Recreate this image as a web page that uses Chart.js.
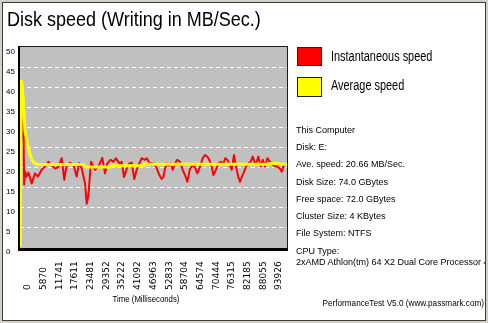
<!DOCTYPE html>
<html>
<head>
<meta charset="utf-8">
<script src="https://cdn.jsdelivr.net/npm/chart.js@4.4.1/dist/chart.umd.min.js"></script>
<style>
  html, body { margin: 0; padding: 0; }
  body { width: 488px; height: 323px; background: #d4d0c8; position: relative; overflow: hidden;
         font-family: "Liberation Sans", Arial, sans-serif; color: #000; }
  #panel { position: absolute; left: 2px; top: 2px; width: 482px; height: 317px;
           border: 1px solid #3c3c3c; background: #fff; }
  #chart { position: absolute; left: 0; top: 0; }
  #title { position: absolute; left: 7px; top: 9px; font-size: 20px; line-height: 20px; white-space: nowrap;
           transform: scaleX(0.9); transform-origin: 0 0; }
  .sw { position: absolute; left: 297px; width: 23px; border: 1px solid #202020; }
  .lg { position: absolute; left: 331px; font-size: 14px; line-height: 14px; white-space: nowrap;
        transform: scaleX(0.78); transform-origin: 0 0; }
  #infoBox { position: absolute; left: 296px; top: 0; width: 189px; height: 323px; overflow: hidden; }
  .info { position: absolute; left: 0; font-size: 9px; line-height: 9px; white-space: nowrap; }
  #xtitle { position: absolute; left: 46px; width: 200px; top: 294px; text-align: center;
            font-size: 9.5px; line-height: 10px; transform: scaleX(0.82); transform-origin: 50% 0; }
  #footer { position: absolute; right: 4px; top: 299px; font-size: 8.2px; line-height: 9px; white-space: nowrap; }
</style>
</head>
<body>
<div id="panel"></div>
<canvas id="chart" width="488" height="323"></canvas>
<div id="title">Disk speed (Writing in MB/Sec.)</div>
<div id="legend"></div>
<div id="infoBox"></div>
<div id="xtitle">Time (Milliseconds)</div>
<div id="footer">PerformanceTest V5.0 (www.passmark.com)</div>
<script>
// Time axis labels (ms)
const timeLabels = ['0','5870','11741','17611','23481','29352','35222','41092','46963',
                    '52833','58704','64574','70444','76315','82185','88055','93926'];

// Instantaneous write speed samples: time (ms) and MB/Sec
const instTime = [374,1234,1570,1869,2504,3177,4373,5607,6728,8111,9345,10579,11849,13083,14317,15587,16559,17456,18690,19924,
  21195,22054,23063,24297,24933,25531,26540,28035,29269,30764,31773,32633,33904,34876,35885,37118,38016,38875,39885,40857,
  41754,42726,43623,44595,45492,46725,47361,48333,49230,50089,51099,52070,52968,53566,54201,54837,55435,56332,57080,57939,
  58799,59808,60817,61677,62537,63546,64555,65415,66275,67284,68293,69153,70013,70760,71657,72255,73265,74125,75022,75994,
  76742,77490,78237,79134,79994,80742,81602,82238,82873,83733,84481,85341,86238,86986,87845,88481,89079,89976,90724,91584,
  92444,93453,94088,95322,96182,97191,97826,98424,99246];
const instSpeed = [26.0,32.2,15.6,18.9,17.6,18.6,15.9,18.4,17.6,19.3,
  20.1,21.3,20.4,19.6,20.0,22.2,16.8,20.6,21.0,20.6,
  17.6,21.0,19.6,15.9,10.8,12.8,21.3,19.3,20.1,22.3,
  18.4,20.9,21.8,21.3,22.2,20.9,21.3,17.5,19.6,20.9,
  21.1,17.0,19.3,20.9,22.2,21.8,22.2,21.1,20.9,20.9,
  19.7,18.0,17.0,17.5,19.6,20.9,20.3,20.9,19.3,20.9,
  21.8,21.3,19.3,18.0,16.3,19.6,20.4,19.9,18.4,20.1,
  22.2,23.0,22.6,21.8,20.1,18.0,19.3,20.9,21.3,20.9,
  22.2,21.8,20.9,19.3,23.0,20.1,17.5,16.3,17.5,18.8,
  20.1,20.9,21.3,22.6,20.9,21.3,22.6,20.1,21.8,20.1,
  22.2,21.3,20.9,20.1,20.1,19.6,18.8,20.1,20.9];

// Running average speed: time (ms) and MB/Sec
const avgTime  = [0,112,561,1234,1869,2504,3103,3738,4598,5607,6841,23923,24671,33642,33829,45977,46164,92702,93453,96440,97191,99796];
const avgSpeed = [0,13.4,41.5,36.9,28.9,27.0,24.9,23.1,21.6,20.9,20.6,20.6,20.0,20.0,20.3,20.3,20.66,20.66,20.9,20.9,20.66,20.66];

const seriesNames  = ['Instantaneous speed', 'Average speed'];
const seriesColors = ['#ff0000', '#ffff00'];

const infoLines = ['This Computer', 'Disk: E:', 'Ave. speed: 20.66 MB/Sec.', 'Disk Size: 74.0 GBytes',
  'Free space: 72.0 GBytes', 'Cluster Size: 4 KBytes', 'File System: NTFS', 'CPU Type:',
  '2xAMD Athlon(tm) 64 X2 Dual Core Processor 4'];

const timeStep = 93926 / (timeLabels.length - 1);
const timeMax = timeStep * timeLabels.length;

const toPoints = (xs, ys) => xs.map((x, i) => ({ x, y: ys[i] }));

// Plot frame, grey background and bottom-aligned rotated time labels
const framePlugin = {
  id: 'frame',
  beforeDraw(chart) {
    const { ctx, chartArea: a } = chart;
    ctx.save();
    ctx.fillStyle = '#c0c0c0';
    ctx.fillRect(a.left, a.top, a.right - a.left, a.bottom - a.top + 2);
    ctx.restore();
  },
  beforeDatasetsDraw(chart) {
    const { ctx, chartArea: a } = chart;
    ctx.save();
    ctx.fillStyle = '#000';
    ctx.fillRect(a.left - 2, a.top - 1, 2, a.bottom - a.top + 5);   // left
    ctx.fillRect(a.left - 2, a.bottom + 1, a.right - a.left + 3, 3); // bottom
    ctx.fillStyle = '#1a1a1a';
    ctx.fillRect(a.left, a.top - 1, a.right - a.left + 1, 1);        // top
    ctx.fillRect(a.right, a.top - 1, 1, a.bottom - a.top + 3);       // right
    ctx.restore();
  },
  afterDraw(chart) {
    const { ctx } = chart;
    const sx = chart.scales.x;
    ctx.save();
    ctx.fillStyle = '#000';
    ctx.font = '9px "DejaVu Sans", sans-serif';
    ctx.textAlign = 'left';
    ctx.textBaseline = 'middle';
    timeLabels.forEach((lab, i) => {
      const px = sx.getPixelForValue(i);
      ctx.save();
      ctx.translate(px, 290);
      ctx.rotate(-Math.PI / 2);
      ctx.fillText(lab, 0, 0);
      ctx.restore();
    });
    ctx.restore();
  }
};

new Chart(document.getElementById('chart'), {
  type: 'line',
  data: {
    labels: timeLabels,
    datasets: [
      { label: seriesNames[0], data: toPoints(instTime, instSpeed), xAxisID: 'xs',
        borderColor: seriesColors[0], borderWidth: 2, order: 1 },
      { label: seriesNames[1], data: toPoints(avgTime, avgSpeed), xAxisID: 'xs',
        borderColor: seriesColors[1], borderWidth: 3, order: 0 }
    ]
  },
  options: {
    responsive: false,
    animation: false,
    devicePixelRatio: 1,
    layout: { padding: { left: 6, top: 47, right: 201, bottom: 76 } },
    elements: { point: { radius: 0 }, line: { tension: 0, borderJoinStyle: 'round' } },
    plugins: { legend: { display: false }, tooltip: { enabled: false } },
    scales: {
      x: { type: 'category', display: false, offset: true },
      xs: { type: 'linear', display: false, min: 0, max: timeMax },
      y: {
        min: 0, max: 50,
        afterFit(s) { s.width = 14; },
        ticks: { stepSize: 5, labelOffset: 5, crossAlign: 'far', padding: 0, color: '#000',
                 font: { family: '"Liberation Sans", Arial, sans-serif', size: 8 } },
        grid: { drawTicks: false, lineWidth: 1,
                color: c => (c.tick && c.tick.value > 0 && c.tick.value < 50) ? '#ffffff' : 'rgba(0,0,0,0)' },
        border: { display: false, dash: [4, 3] }
      }
    }
  },
  plugins: [framePlugin]
});

// Legend swatches and names
const legend = document.getElementById('legend');
const swTops = [47, 77], txtTops = [49, 77.5], swHeights = [17, 18];
seriesNames.forEach((name, i) => {
  const sw = document.createElement('div');
  sw.className = 'sw';
  sw.style.top = swTops[i] + 'px';
  sw.style.height = swHeights[i] + 'px';
  sw.style.background = seriesColors[i];
  legend.appendChild(sw);
  const t = document.createElement('div');
  t.className = 'lg';
  t.style.top = txtTops[i] + 'px';
  t.textContent = name;
  legend.appendChild(t);
});

// Disk / system information block
const infoBox = document.getElementById('infoBox');
infoLines.forEach((line, i) => {
  const d = document.createElement('div');
  d.className = 'info';
  d.style.top = (i < 8 ? 125.7 + i * 17.29 : 258.4) + 'px';
  d.textContent = line;
  infoBox.appendChild(d);
});
</script>
</body>
</html>
